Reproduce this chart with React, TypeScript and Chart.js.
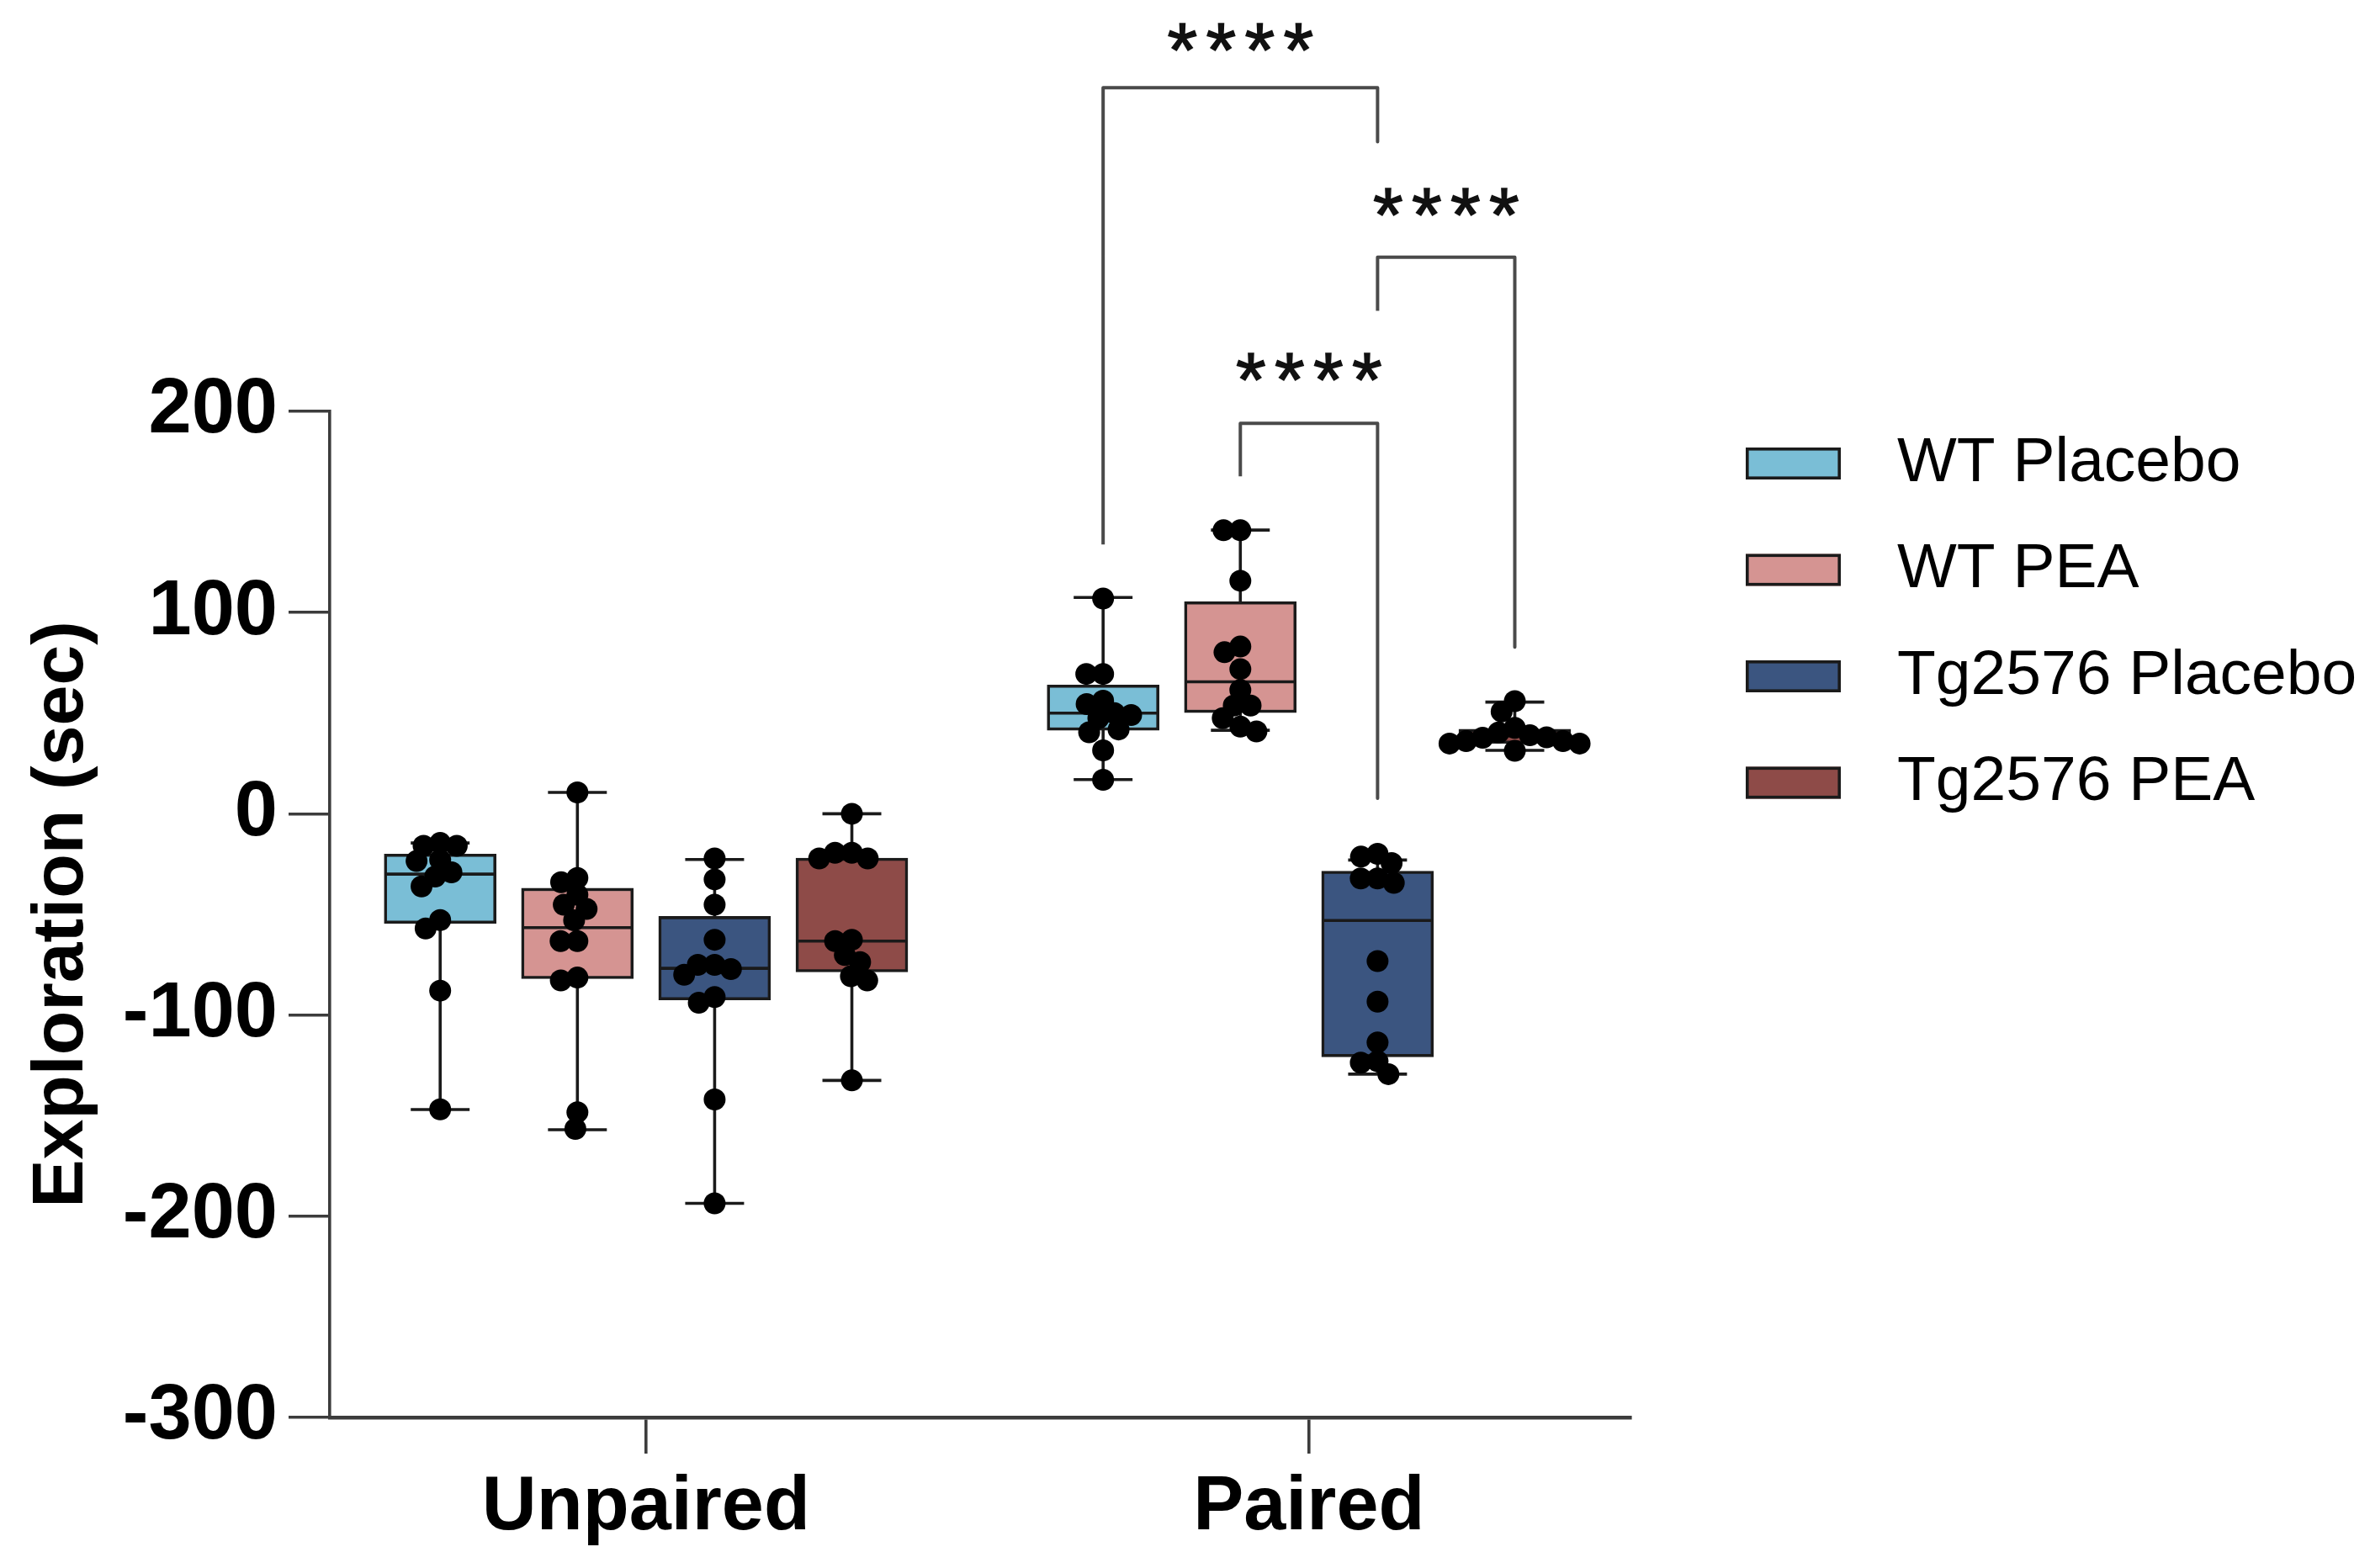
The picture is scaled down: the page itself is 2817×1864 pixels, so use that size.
import React, { useEffect, useRef } from 'react';
import { Chart, registerables } from 'chart.js';

Chart.register(...registerables);

// ---------------- data ----------------
const categories = ['Unpaired', 'Paired'];
const seriesNames = ['WT Placebo', 'WT PEA', 'Tg2576 Placebo', 'Tg2576 PEA'];
const seriesColors = ['#7abed6', '#d59492', '#3b5580', '#8e4b48'];
const yTickValues = [-300, -200, -100, 0, 100, 200];

// box statistics per category: [min, q1, median, q3, max]
const wtPlaceboBox = [[-147, -54.5, -30, -20, -14.5], [17, 41.5, 50, 64, 107.5]];
const wtPeaBox = [[-157, -82, -56.6, -37, 10.6], [41.5, 50.3, 65.6, 105.4, 141]];
const tgPlaceboBox = [[-193.6, -92.5, -76.8, -51, -22.7], [-129.4, -120.8, -53, -28.5, -23]];
const tgPeaBox = [[-132.5, -78.6, -63.3, -22, 0], [31.5, 35, 38.8, 42, 55.5]];

// individual animals per category
const wtPlaceboPoints = [
  [-14.5, -15.9, -15.9, -22.9, -23.5, -29.1, -31.2, -36.1, -52.8, -57, -87.9, -146.9],
  [107, 69.5, 69.5, 54.5, 56.2, 47.5, 50, 49.1, 41.9, 40.5, 31.5, 16.9],
];
const wtPeaPoints = [
  [10.6, -31.9, -34, -40.3, -45.2, -47.3, -52.9, -63.3, -63.3, -81.4, -82.8, -148.3, -156.6],
  [140.9, 140.9, 115.8, 83.1, 80.3, 71.9, 61.5, 53.8, 53.8, 47.5, 43.3, 40.9],
];
const tgPlaceboPoints = [
  [-22.2, -32.6, -45.2, -62.6, -75.1, -75.1, -77.2, -80, -91.1, -93.9, -142, -193.6],
  [-19.9, -21.3, -24.5, -32.1, -32.1, -34.3, -73.2, -93.4, -113.6, -123, -123.7, -129.4],
];
const tgPeaPoints = [
  [0, -19.4, -19.4, -22.2, -22.2, -62.6, -63.3, -70.2, -73.7, -80.7, -82.8, -132.5],
  [56, 50.8, 42.7, 40.4, 39, 38, 37.8, 36.1, 36.1, 34.9, 34.9, 31.3],
];

// significance brackets (all within "Paired")
const bracketFrom = [0, 2, 1];
const bracketTo = [2, 3, 2];
const bracketTop = [360.8, 276.6, 194];
const bracketLeftEnd = [133.8, 250, 167.7];
const bracketRightEnd = [334, 82.8, 7.7];
const bracketLabelY = [386, 304, 222];
const bracketLabels = ['****', '****', '****'];

// ---------------- layout constants ----------------
const FONT = '"Liberation Sans", Arial, Helvetica, sans-serif';
const SERIES_STEP = 0.207;
const BOX_HALF = 0.0831;
const CAP_HALF = 0.0444;
const PX_PER_X = 788;
const PX_PER_Y = 2.392;
const DOT_D = 20;
const STAR_INK_H = 33;
const STAR_PITCH = 46;
const BRACKET_GROUP = 1;
const LINE_W = 3.6;

const boxes = [wtPlaceboBox, wtPeaBox, tgPlaceboBox, tgPeaBox];
const pointSets = [wtPlaceboPoints, wtPeaPoints, tgPlaceboPoints, tgPeaPoints];

const sx = (g: number, s: number) => g + (s - 1.5) * SERIES_STEP;

function swarm(values: number[], diam: number): number[] {
  const order = values.map((_, i) => i).sort((a, b) => values[b] - values[a]);
  const placed: { x: number; y: number }[] = [];
  const out = new Array(values.length).fill(0);
  for (const i of order) {
    const y = values[i] * PX_PER_Y;
    const cands = [0];
    for (const p of placed) {
      const dy = Math.abs(p.y - y);
      if (dy < diam) {
        const dx = Math.sqrt(diam * diam - dy * dy);
        cands.push(p.x + dx, p.x - dx);
      }
    }
    cands.sort((a, b) => Math.abs(a) - Math.abs(b) || a - b);
    let best = 0;
    for (const c of cands) {
      if (placed.every((p) => (p.x - c) ** 2 + (p.y - y) ** 2 >= diam * diam - 0.5)) {
        best = c;
        break;
      }
    }
    placed.push({ x: best, y });
    out[i] = best;
  }
  return out;
}

function buildDatasets() {
  const lineBase = {
    type: 'line',
    pointRadius: 0,
    pointHoverRadius: 0,
    borderWidth: LINE_W,
    fill: false,
    tension: 0,
    spanGaps: false,
    borderCapStyle: 'butt',
  };
  const ds: any[] = [];
  boxes.forEach((b, s) => {
    const whisk: any[] = [];
    const med: any[] = [];
    b.forEach((st, g) => {
      const cx = sx(g, s);
      whisk.push(
        { x: cx, y: st[4] }, { x: cx, y: st[0] }, { x: cx, y: null },
        { x: cx - CAP_HALF, y: st[4] }, { x: cx + CAP_HALF, y: st[4] }, { x: cx, y: null },
        { x: cx - CAP_HALF, y: st[0] }, { x: cx + CAP_HALF, y: st[0] }, { x: cx, y: null },
      );
      med.push({ x: cx - BOX_HALF, y: st[2] }, { x: cx + BOX_HALF, y: st[2] }, { x: cx, y: null });
    });
    ds.push({ ...lineBase, label: seriesNames[s] + ' whiskers', data: whisk, borderColor: '#1a1a1a', order: 4 });
    ds.push({
      type: 'bar',
      label: seriesNames[s],
      data: b.map((st, g) => ({ x: sx(g, s), y: [st[1], st[3]] })),
      backgroundColor: seriesColors[s],
      borderColor: '#1b1b1b',
      borderWidth: LINE_W,
      borderSkipped: false,
      barThickness: 133,
      grouped: false,
      order: 3,
    });
    ds.push({ ...lineBase, label: seriesNames[s] + ' median', data: med, borderColor: '#1a1a1a', order: 2 });
    const pts: any[] = [];
    pointSets[s].forEach((vals, g) => {
      const off = swarm(vals, DOT_D);
      vals.forEach((v, i) => pts.push({ x: sx(g, s) + off[i] / PX_PER_X, y: v }));
    });
    ds.push({
      type: 'scatter',
      label: seriesNames[s] + ' points',
      data: pts,
      pointRadius: 13,
      pointHoverRadius: 13,
      backgroundColor: '#000',
      borderWidth: 0,
      order: 1,
    });
  });
  const br: any[] = [];
  bracketFrom.forEach((f, i) => {
    const xa = sx(BRACKET_GROUP, f);
    const xb = sx(BRACKET_GROUP, bracketTo[i]);
    br.push(
      { x: xa, y: bracketLeftEnd[i] }, { x: xa, y: bracketTop[i] },
      { x: xb, y: bracketTop[i] }, { x: xb, y: bracketRightEnd[i] }, { x: xb, y: null },
    );
  });
  ds.push({ ...lineBase, label: 'brackets', data: br, borderColor: '#4a4a4a', borderWidth: 4, borderJoinStyle: 'round', clip: false, order: 0 });
  return ds;
}

const annotPlugin = {
  id: 'annot',
  afterDraw(chart: any) {
    const { ctx, chartArea } = chart;
    const x = chart.scales.x;
    const y = chart.scales.y;
    ctx.save();
    // stars
    ctx.font = `100px ${FONT}`;
    const m = ctx.measureText('*');
    const inkH = m.actualBoundingBoxAscent + m.actualBoundingBoxDescent;
    const fs = (100 * STAR_INK_H) / inkH;
    ctx.font = `${fs}px ${FONT}`;
    const m2 = ctx.measureText('*');
    ctx.fillStyle = '#111';
    ctx.strokeStyle = '#111';
    ctx.lineWidth = 1.5;
    ctx.textAlign = 'center';
    ctx.textBaseline = 'alphabetic';
    bracketFrom.forEach((f, i) => {
      const xa = x.getPixelForValue(sx(BRACKET_GROUP, f));
      const xb = x.getPixelForValue(sx(BRACKET_GROUP, bracketTo[i]));
      const cx = (xa + xb) / 2;
      const cy = y.getPixelForValue(bracketLabelY[i]);
      const base = cy + (m2.actualBoundingBoxAscent - m2.actualBoundingBoxDescent) / 2;
      const chars = Array.from(bracketLabels[i]);
      chars.forEach((c, k) => {
        const px = cx + (k - (chars.length - 1) / 2) * STAR_PITCH;
        ctx.fillText(c, px, base);
        ctx.strokeText(c, px, base);
      });
    });
    // legend
    const legX = chartArea.right + 137;
    const legTop = chartArea.top + 62;
    const legStep = 126.5;
    ctx.font = `75px ${FONT}`;
    ctx.textAlign = 'left';
    ctx.textBaseline = 'middle';
    seriesNames.forEach((n, i) => {
      const yc = legTop + i * legStep;
      ctx.fillStyle = seriesColors[i];
      ctx.fillRect(legX, yc - 19, 113, 38);
      ctx.lineWidth = LINE_W;
      ctx.strokeStyle = '#1b1b1b';
      ctx.strokeRect(legX + LINE_W / 2, yc - 19 + LINE_W / 2, 113 - LINE_W, 38 - LINE_W);
      ctx.fillStyle = '#000';
      ctx.fillText(n, legX + 180, yc);
    });
    ctx.restore();
  },
};

export default function App() {
  const ref = useRef<HTMLCanvasElement>(null);
  useEffect(() => {
    if (!ref.current) return;
    Chart.defaults.font.family = FONT;
    const chart = new Chart(ref.current, {
      type: 'bar',
      data: { datasets: buildDatasets() },
      options: {
        animation: false,
        responsive: true,
        maintainAspectRatio: false,
        events: [],
        layout: { padding: { top: 481, right: 871, left: 0, bottom: 0 } },
        plugins: {
          legend: { display: false },
          tooltip: { enabled: false },
        },
        scales: {
          x: {
            type: 'linear',
            min: -0.477,
            max: 1.485,
            offset: false,
            afterBuildTicks: (scale: any) => {
              scale.ticks = categories.map((_, i) => ({ value: i }));
            },
            afterFit: (scale: any) => {
              scale.height = 171;
            },
            ticks: {
              callback: (v: any) => categories[v as number] ?? '',
              color: '#000',
              padding: 11,
              autoSkip: false,
              maxRotation: 0,
              font: { size: 90, weight: 'bold', family: FONT },
            },
            grid: {
              offset: false,
              drawOnChartArea: false,
              drawTicks: true,
              tickLength: 43,
              tickWidth: LINE_W,
              lineWidth: LINE_W,
              tickColor: '#3c3c3c',
              color: '#3c3c3c',
            },
            border: { display: true, color: '#3c3c3c', width: 4.5 },
          },
          y: {
            type: 'linear',
            min: -300,
            max: 200,
            afterBuildTicks: (scale: any) => {
              scale.ticks = yTickValues.map((v) => ({ value: v }));
            },
            afterFit: (scale: any) => {
              scale.width = 384;
            },
            ticks: {
              color: '#000',
              padding: 13,
              font: { size: 92, weight: 'bold', family: FONT },
            },
            grid: {
              drawOnChartArea: false,
              drawTicks: true,
              tickLength: 49,
              tickWidth: LINE_W,
              lineWidth: LINE_W,
              tickColor: '#3c3c3c',
              color: '#3c3c3c',
            },
            border: { display: true, color: '#3c3c3c', width: LINE_W },
            title: {
              display: true,
              text: 'Exploration (sec)',
              color: '#000',
              padding: { top: 15, bottom: 0 },
              font: { size: 86, weight: 'bold', family: FONT },
            },
          },
        },
      } as any,
      plugins: [annotPlugin],
    } as any);
    return () => chart.destroy();
  }, []);
  return (
    <div style={{ width: 2801, height: 1848, position: 'relative' }}>
      <canvas ref={ref} />
    </div>
  );
}
